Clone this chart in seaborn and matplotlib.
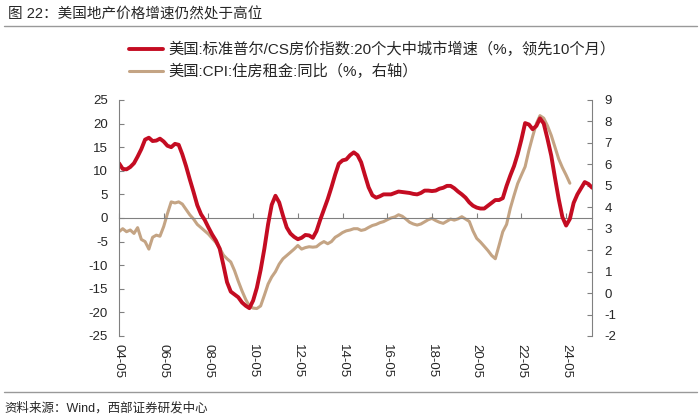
import pandas as pd
import numpy as np
import matplotlib.pyplot as plt
import seaborn as sns

# values, one point every 2 months starting 2004-05
red_vals = [11.6, 10.4, 10.3, 10.8, 11.6, 13.0, 14.6, 16.6, 17.0, 16.3,
            16.4, 16.8, 16.2, 15.3, 15.0, 15.7, 15.5, 13.5, 11.0, 8.2,
            5.5, 2.7, 0.8, -0.4, -2.0, -3.5, -4.8, -6.5, -10.0, -13.6,
            -15.6, -16.2, -16.8, -17.9, -18.6, -19.1, -17.5, -14.8, -11.0, -6.5,
            -1.3, 2.8, 4.7, 3.3, 0.5, -2.0, -3.3, -4.0, -4.5, -4.2,
            -3.6, -3.7, -4.2, -2.8, -0.4, 1.8, 4.0, 6.5, 9.2, 11.5,
            12.2, 12.4, 13.3, 13.9, 13.3, 11.8, 9.1, 6.5, 4.8, 4.3,
            4.6, 5.0, 5.0, 5.0, 5.3, 5.6, 5.5, 5.4, 5.3, 5.1,
            5.0, 5.3, 5.8, 5.8, 5.7, 5.8, 6.2, 6.4, 6.8, 6.8,
            6.3, 5.6, 5.0, 4.3, 3.3, 2.6, 2.2, 2.0, 2.0, 2.6,
            3.2, 3.8, 3.8, 4.2, 6.8, 9.0, 11.0, 13.5, 16.6, 20.1,
            19.8, 18.8, 19.5, 21.1, 20.0, 16.8, 13.2, 8.5, 4.0, 0.2,
            -1.6, -0.2, 3.2, 5.0, 6.3, 7.6, 7.2, 6.4]
tan_vals = [2.86, 3.0, 2.86, 2.94, 2.78, 3.05, 2.5, 2.4, 2.05, 2.6,
            2.7, 2.65, 3.1, 3.7, 4.25, 4.2, 4.25, 4.15, 3.9, 3.65,
            3.45, 3.2, 3.05, 2.9, 2.75, 2.55, 2.35, 2.1, 1.77, 1.6,
            1.45, 1.05, 0.55, 0.1, -0.3, -0.6, -0.7, -0.72, -0.6, -0.1,
            0.42, 0.75, 1.0, 1.35, 1.6, 1.75, 1.9, 2.05, 2.22, 2.05,
            2.12, 2.16, 2.14, 2.16, 2.3, 2.4, 2.3, 2.4, 2.6, 2.7,
            2.82, 2.9, 2.94, 3.0, 3.0, 2.92, 2.96, 3.06, 3.15, 3.2,
            3.28, 3.33, 3.42, 3.5, 3.55, 3.65, 3.58, 3.45, 3.3, 3.22,
            3.17, 3.22, 3.32, 3.42, 3.48, 3.38, 3.3, 3.25, 3.35, 3.45,
            3.4, 3.46, 3.56, 3.45, 3.34, 2.9, 2.55, 2.38, 2.18, 1.98,
            1.75, 1.6, 2.22, 2.86, 3.2, 3.95, 4.55, 5.1, 5.5, 5.89,
            6.65, 7.3, 7.9, 8.27, 8.15, 7.8, 7.35, 6.8, 6.25, 5.85,
            5.5, 5.12]
red_dates = pd.date_range('2004-05-01', periods=len(red_vals), freq='2MS')
tan_dates = pd.date_range('2004-05-01', periods=len(tan_vals), freq='2MS')
tick_dates = pd.date_range('2004-05-01', '2024-05-01', freq='24MS')
tick_labels = [d.strftime('%y-%m') for d in tick_dates]
left_ticks = list(range(-25, 30, 5))
right_ticks = list(range(-2, 10))

title = '图 22：美国地产价格增速仍然处于高位'
source = '资料来源：Wind，西部证券研发中心'
red_label = '美国:标准普尔/CS房价指数:20个大中城市增速（%，领先10个月）'
tan_label = '美国:CPI:住房租金:同比（%，右轴）'

red = '#C40C22'
tan = '#C4A484'
gray = '#808080'

sns.set_style('ticks')
plt.rcParams['font.family'] = ['Liberation Sans', 'Noto Sans CJK SC']
plt.rcParams['axes.unicode_minus'] = False

fig = plt.figure(figsize=(7, 4.2), dpi=100)
ax = fig.add_axes([0.17, 0.2, 0.676, 0.562])
ax2 = ax.twinx()

sns.lineplot(x=red_dates, y=red_vals, ax=ax, color=red, lw=2.8, label=red_label, legend=False)
sns.lineplot(x=tan_dates, y=tan_vals, ax=ax2, color=tan, lw=2.2, label=tan_label, legend=False)
ax.set_zorder(ax2.get_zorder() + 1)
ax.patch.set_visible(False)

ax.set_xlim(pd.Timestamp('2004-05-01'), pd.Timestamp('2025-07-01'))
ax.set_ylim(-25, 25)
ax2.set_ylim(-2, 9)
ax.set_yticks(left_ticks)
ax2.set_yticks(right_ticks)
ax.set_xticks(tick_dates)
ax.set_xticklabels(tick_labels)
ax.set_xlabel('')
ax.set_ylabel('')
ax2.set_ylabel('')

for s in ['top', 'bottom', 'right']:
    ax.spines[s].set_visible(False)
for s in ['top', 'bottom', 'left']:
    ax2.spines[s].set_visible(False)
ax.spines['left'].set_color(gray)
ax2.spines['right'].set_color(gray)

ax.tick_params(axis='y', direction='in', length=3.5, color=gray, labelsize=9.5, pad=8)
ax2.tick_params(axis='y', direction='in', length=3.5, color=gray, labelsize=9.5, pad=9)
ax.tick_params(axis='x', length=0, labelsize=9.5, pad=6, labelrotation=270)

# zero line with the date ticks, like the excel axis crossing at 0
zero = ax.secondary_xaxis(0.5)
zero.set_alignment('bottom')
zero.set_xticks(tick_dates)
zero.tick_params(axis='x', direction='in', length=3.5, color=gray, labelbottom=False, labeltop=False)
zero.spines['bottom'].set_color(gray)

handles = [ax.get_lines()[0], ax2.get_lines()[0]]
fig.legend(handles, [red_label, tan_label], loc='upper left', bbox_to_anchor=(0.176, 0.915),
           frameon=False, fontsize=11, handlelength=2.2, handletextpad=0.35,
           labelspacing=0.45, borderaxespad=0)

fig.text(0.012, 1 - 14 / 420, title, fontsize=10.5, va='center', ha='left')
fig.add_artist(plt.Line2D([0.005, 0.995], [1 - 26 / 420] * 2, transform=fig.transFigure, color='#999999', lw=1))
fig.add_artist(plt.Line2D([0.005, 0.995], [1 - 392 / 420] * 2, transform=fig.transFigure, color='#999999', lw=1))
fig.text(0.006, 1 - 408 / 420, source, fontsize=9, va='center', ha='left')

fig.savefig('out.png', dpi=100)
